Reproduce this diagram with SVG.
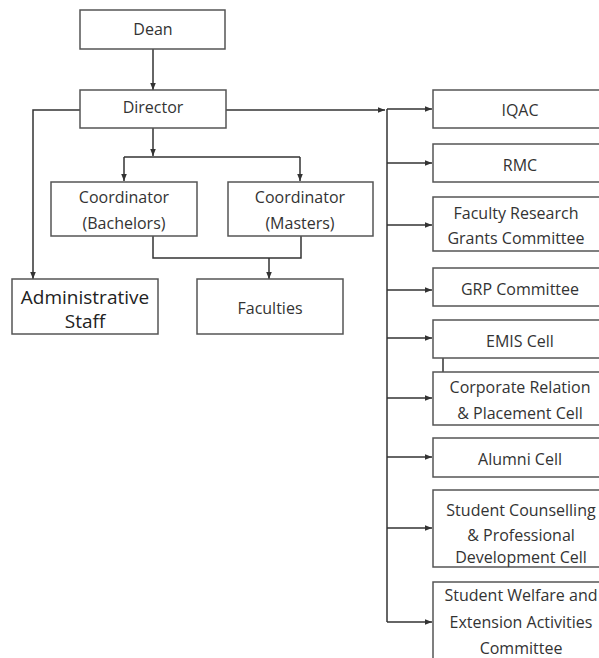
<svg xmlns="http://www.w3.org/2000/svg" width="599" height="658" viewBox="0 0 599 658">
<defs>
<marker id="ah" viewBox="0 0 10 10" refX="10" refY="5" markerWidth="7" markerHeight="7" orient="auto" markerUnits="userSpaceOnUse">
<path d="M0,1 L10,5 L0,9 z" fill="#333"/>
</marker>
<style>
.box{fill:#fff;stroke:#555;stroke-width:1.5}
.t{font-family:"Open Sans","Noto Sans",sans-serif;font-size:16px;fill:#333;text-anchor:middle}
.tl{font-family:"Open Sans","Noto Sans",sans-serif;font-size:19px;fill:#222;text-anchor:middle}
.c{fill:none;stroke:#333;stroke-width:1.5}
.a{fill:none;stroke:#333;stroke-width:1.5;marker-end:url(#ah)}
</style>
</defs>
<rect width="599" height="658" fill="#fff"/>
<g id="connectors">
<path class="a" d="M153,49 V90"/>
<path class="a" d="M80,110 H33 V279"/>
<path class="c" d="M226,110 H300"/>
<path class="a" d="M300,110 H385"/>
<path class="a" d="M153,128 V156"/>
<path class="a" d="M124,157 V181"/>
<path class="c" d="M124,157 H300"/>
<path class="a" d="M300,157 V181"/>
<path class="c" d="M153,236 V258 H301 V236"/>
<path class="a" d="M269,258 V279"/>
<path class="c" d="M387,109 V622"/>
<path class="a" d="M387,109 H432"/>
<path class="a" d="M387,163 H432"/>
<path class="a" d="M387,225 H432"/>
<path class="a" d="M387,290 H432"/>
<path class="a" d="M387,338 H432"/>
<path class="a" d="M387,398 H432"/>
<path class="a" d="M387,457 H432"/>
<path class="a" d="M387,528 H432"/>
<path class="a" d="M387,622 H432"/>
<path class="c" d="M443,358 V373" stroke-width="1"/>
</g>
<g id="dean"><rect class="box" x="80" y="10" width="145" height="39"/><text class="t" x="153" y="35">Dean</text></g>
<g id="director"><rect class="box" x="80" y="90" width="146" height="38"/><text class="t" x="153" y="113">Director</text></g>
<g id="coord-bachelors"><rect class="box" x="51" y="182" width="146" height="54"/><text class="t" x="124" y="203">Coordinator</text><text class="t" x="124" y="229">(Bachelors)</text></g>
<g id="coord-masters"><rect class="box" x="228" y="182" width="145" height="54"/><text class="t" x="300" y="203">Coordinator</text><text class="t" x="300" y="229">(Masters)</text></g>
<g id="admin-staff"><rect class="box" x="12" y="279" width="146" height="55"/><text class="tl" x="85" y="304">Administrative</text><text class="tl" x="85" y="328">Staff</text></g>
<g id="faculties"><rect class="box" x="197" y="279" width="146" height="55"/><text class="t" x="270" y="314">Faculties</text></g>
<g id="iqac"><rect class="box" x="433" y="90" width="180" height="38"/><text class="t" x="520" y="116">IQAC</text></g>
<g id="rmc"><rect class="box" x="433" y="144" width="180" height="38"/><text class="t" x="520" y="171">RMC</text></g>
<g id="frgc"><rect class="box" x="433" y="197" width="180" height="54"/><text class="t" x="516" y="219">Faculty Research</text><text class="t" x="516" y="244">Grants Committee</text></g>
<g id="grp"><rect class="box" x="433" y="268" width="180" height="38"/><text class="t" x="520" y="295">GRP Committee</text></g>
<g id="emis"><rect class="box" x="433" y="320" width="180" height="38"/><text class="t" x="520" y="347">EMIS Cell</text></g>
<g id="corporate"><rect class="box" x="433" y="372" width="180" height="53"/><text class="t" x="520" y="393">Corporate Relation</text><text class="t" x="520" y="419">&amp; Placement Cell</text></g>
<g id="alumni"><rect class="box" x="433" y="438" width="180" height="39"/><text class="t" x="520" y="465">Alumni Cell</text></g>
<g id="counselling"><rect class="box" x="433" y="490" width="180" height="77"/><text class="t" x="521" y="516">Student Counselling</text><text class="t" x="521" y="541">&amp; Professional</text><text class="t" x="521" y="563">Development Cell</text></g>
<g id="welfare"><rect class="box" x="433" y="582" width="180" height="90"/><text class="t" x="521" y="601">Student Welfare and</text><text class="t" x="521" y="628">Extension Activities</text><text class="t" x="521" y="654">Committee</text></g>
</svg>
